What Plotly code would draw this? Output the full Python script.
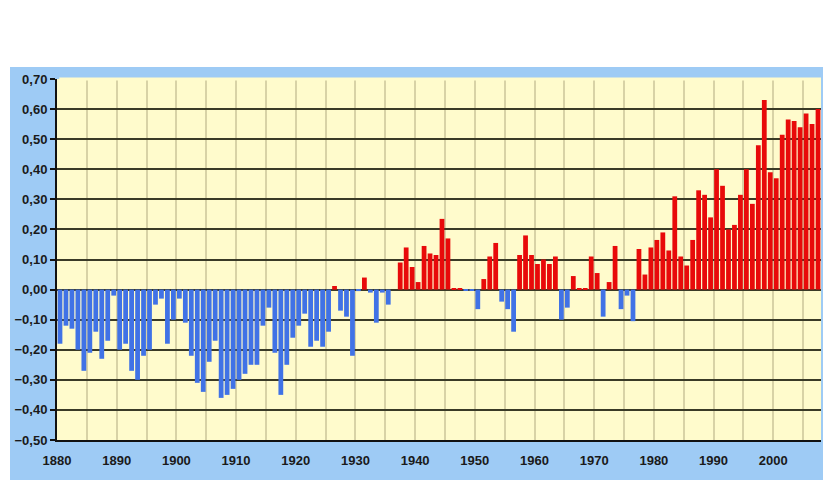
import plotly.graph_objects as go

years = list(range(1880, 2008))
anomaly = [
    -0.18, -0.12, -0.13, -0.20, -0.27, -0.21, -0.14, -0.23, -0.17, -0.02,  # 1880-1889
    -0.20, -0.18, -0.27, -0.30, -0.22, -0.20, -0.05, -0.03, -0.18, -0.10,  # 1890-1899
    -0.03, -0.11, -0.22, -0.31, -0.34, -0.24, -0.17, -0.36, -0.35, -0.33,  # 1900-1909
    -0.30, -0.28, -0.25, -0.25, -0.12, -0.06, -0.21, -0.35, -0.25, -0.16,  # 1910-1919
    -0.12, -0.08, -0.19, -0.17, -0.19, -0.14, 0.012, -0.07, -0.09, -0.22,  # 1920-1929
    -0.005, 0.04, -0.01, -0.11, -0.01, -0.05, 0.0, 0.09, 0.14, 0.075,      # 1930-1939
    0.025, 0.145, 0.12, 0.115, 0.235, 0.17, 0.005, 0.002, -0.003, -0.003,  # 1940-1949
    -0.065, 0.035, 0.11, 0.155, -0.04, -0.065, -0.14, 0.115, 0.18, 0.115,  # 1950-1959
    0.085, 0.10, 0.085, 0.11, -0.10, -0.06, 0.045, 0.005, 0.005, 0.11,     # 1960-1969
    0.055, -0.09, 0.025, 0.145, -0.065, -0.02, -0.105, 0.135, 0.05, 0.14,  # 1970-1979
    0.165, 0.19, 0.13, 0.31, 0.11, 0.08, 0.165, 0.33, 0.315, 0.24,         # 1980-1989
    0.40, 0.345, 0.20, 0.215, 0.315, 0.40, 0.285, 0.48, 0.63, 0.39,        # 1990-1999
    0.37, 0.515, 0.565, 0.56, 0.54, 0.585, 0.55, 0.60,                     # 2000-2007
]
x_tick_labels = ["1880", "1890", "1900", "1910", "1920", "1930", "1940",
                 "1950", "1960", "1970", "1980", "1990", "2000"]
y_tick_values = [-0.5, -0.4, -0.3, -0.2, -0.1, 0.0, 0.1, 0.2, 0.3, 0.4, 0.5, 0.6, 0.7]

BLUE = "#4072e6"
RED = "#e80a0a"
PLOT_BG = "#fffbcc"
colors = [RED if v >= 0 else BLUE for v in anomaly]

# ticks every 5 years at category boundaries; labels every 10
tickvals = [years[0] - 0.5 + 5 * k for k in range(0, 26)]
ticktext = []
for k in range(26):
    ticktext.append(x_tick_labels[k // 2] if k % 2 == 0 and k // 2 < len(x_tick_labels) else "")

fig = go.Figure(go.Bar(x=years, y=anomaly, marker=dict(color=colors, line=dict(width=0)),
                       hoverinfo="x+y"))

fig.update_layout(
    width=823, height=480,
    margin=dict(l=57, r=2, t=79, b=40, autoexpand=False),
    paper_bgcolor="#9ecbf5",
    plot_bgcolor=PLOT_BG,
    bargap=0.2,
    showlegend=False,
    separators=",.",
    font=dict(family="Liberation Sans, Arial, sans-serif", size=13, color="#1a1a1a"),
    shapes=[
        dict(type="rect", xref="paper", yref="paper", x0=-0.2, x1=1.1,
             y0=1.0 + 12 / 361, y1=1.3, fillcolor="white", line=dict(width=0), layer="below"),
        dict(type="rect", xref="paper", yref="paper", x0=-0.2, x1=-47 / 764,
             y0=-0.2, y1=1.3, fillcolor="white", line=dict(width=0), layer="below"),
        # no gridline along the very top edge of the plot area
        dict(type="line", xref="paper", yref="paper", x0=0.003, x1=1, y0=1, y1=1,
             line=dict(color=PLOT_BG, width=3), layer="above"),
    ],
)

fig.update_xaxes(
    range=[years[0] - 0.5, years[-1] + 0.5],
    tickmode="array", tickvals=tickvals, ticktext=ticktext,
    showgrid=True, gridcolor="#d8d2a6", gridwidth=1.5,
    showline=True, linecolor="#111111", linewidth=2,
    ticks="", ticklabelstandoff=7,
    tickfont=dict(size=13, weight="bold", color="#1a1a1a"),
    zeroline=False,
)
fig.update_yaxes(
    range=[-0.5, 0.7],
    tickmode="array", tickvals=y_tick_values, tickformat=".2f",
    showgrid=True, gridcolor="#3a3a26", gridwidth=2,
    showline=True, linecolor="#111111", linewidth=2,
    ticks="outside", ticklen=5, tickwidth=2, tickcolor="#111111",
    tickfont=dict(size=13, weight="bold", color="#1a1a1a"),
    zeroline=False,
)

fig.write_html("out.html", config={"displayModeBar": False},
               post_script="document.body.style.margin='0';document.body.style.overflow='hidden';")
